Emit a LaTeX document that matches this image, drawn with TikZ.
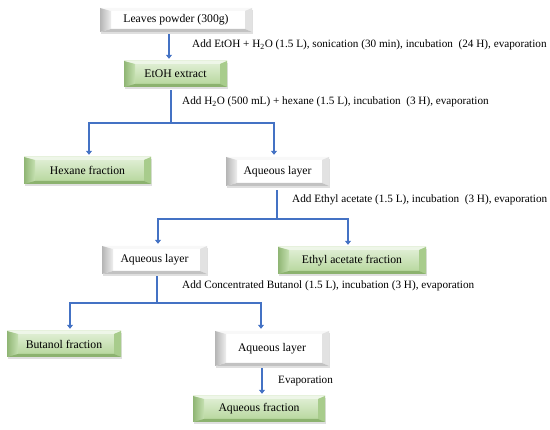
\documentclass[tikz,border=0pt]{standalone}
\usepackage{fontspec}
\setmainfont{Liberation Serif}
\usetikzlibrary{arrows.meta,shadows,calc}
\definecolor{flowblue}{HTML}{4472C4}
\definecolor{gtop}{HTML}{E3F0D9}
\definecolor{gbot}{HTML}{B3D598}
\definecolor{gbt}{HTML}{EEF6E8}
\definecolor{gld}{HTML}{8FB574}
\definecolor{gll}{HTML}{C5E0B0}
\definecolor{grr}{HTML}{A8CC8C}
\definecolor{gbb}{HTML}{8CB26F}
\definecolor{wbt}{HTML}{F8F8F8}
\definecolor{wld}{HTML}{B5B5B5}
\definecolor{wll}{HTML}{EEEEEE}
\definecolor{wrr}{HTML}{E2E2E2}
\definecolor{wbb}{HTML}{C2C2C2}
\newcommand\bevelparts[5]{%
  \path (path picture bounding box.north west) coordinate (bNW)
        (path picture bounding box.north east) coordinate (bNE)
        (path picture bounding box.south west) coordinate (bSW)
        (path picture bounding box.south east) coordinate (bSE);
  \fill[#1] (bNW) -- (bNE) -- ([shift={(-7pt,-3pt)}]bNE) -- ([shift={(11pt,-3pt)}]bNW) -- cycle;
  \shade[left color=#2, right color=#3] (bNW) -- ([shift={(11pt,-3pt)}]bNW) -- ([shift={(11pt,3pt)}]bSW) -- (bSW) -- cycle;
  \fill[#4] (bNE) -- (bSE) -- ([shift={(-7pt,3pt)}]bSE) -- ([shift={(-7pt,-3pt)}]bNE) -- cycle;
  \fill[#5] (bSW) -- (bSE) -- ([shift={(-7pt,3pt)}]bSE) -- ([shift={(11pt,3pt)}]bSW) -- cycle;
}
\newcommand\boxfont{\fontsize{11.7}{13}\selectfont}
\newcommand\lblfont{\fontsize{11.2}{13}\selectfont}
\tikzset{
  box/.style={rectangle, inner sep=0pt, font=\boxfont,
    drop shadow={opacity=0.25, shadow xshift=0.8pt, shadow yshift=-1.8pt}},
  greenbox/.style={box, top color=gtop, bottom color=gbot,
    path picture={\bevelparts{gbt}{gld}{gll}{grr}{gbb}}},
  whitebox/.style={box, fill=white,
    path picture={\bevelparts{wbt}{wld}{wll}{wrr}{wbb}}},
  ln/.style={draw=flowblue, line width=2.6pt},
  hln/.style={draw=flowblue, line width=2.2pt},
  arr/.style={ln, -{Triangle[length=4pt,width=6pt]}, shorten <=2pt, shorten >=2pt},
  lbl/.style={anchor=west, font=\lblfont, inner sep=0pt}
}
\begin{document}
\begin{tikzpicture}[x=1pt, y=-1pt]
\useasboundingbox (0,0) rectangle (550,430);
% boxes
\node[whitebox, minimum width=152pt, minimum height=24pt] (leaves) at (176,20) {Leaves powder (300g)};
\node[greenbox, minimum width=103pt, minimum height=26pt] (etoh) at (175.5,74) {EtOH extract};
\node[greenbox, minimum width=127pt, minimum height=27pt] (hex) at (87.5,170.5) {Hexane fraction};
\node[whitebox, minimum width=103pt, minimum height=29pt] (aq1) at (277.5,171.5) {Aqueous layer};
\node[whitebox, minimum width=105pt, minimum height=28pt] (aq2) at (154.5,260) {Aqueous layer};
\node[greenbox, minimum width=148pt, minimum height=27pt] (eth) at (352,260.5) {Ethyl acetate fraction};
\node[greenbox, minimum width=114pt, minimum height=26pt] (but) at (64,344) {Butanol fraction};
\node[whitebox, minimum width=114pt, minimum height=35pt] (aq3) at (272,348.5) {Aqueous layer};
\node[greenbox, minimum width=132pt, minimum height=26pt] (aqf) at (259,409) {Aqueous fraction};
% labels
\node[lbl] (t1) at (192,45) {Add EtOH + H\textsubscript{2}O (1.5 L), sonication (30 min), incubation\ \ (24 H), evaporation};
\node[lbl] (t2) at (182,102) {Add H\textsubscript{2}O (500 mL) + hexane (1.5 L), incubation\ \ (3 H), evaporation};
\node[lbl] (t3) at (292,200) {Add Ethyl acetate (1.5 L), incubation\ \ (3 H), evaporation};
\node[lbl] (t4) at (182,286) {Add Concentrated Butanol (1.5 L), incubation (3 H), evaporation};
\node[lbl] (t5) at (278,381) {Evaporation};
% junctions
\coordinate (j1) at (171,123);
\coordinate (j2) at (277,219);
\coordinate (j3) at (157,303);
% connectors
\draw[arr] ([xshift=-7pt]leaves.south) -- ([xshift=-7pt]leaves.south |- etoh.north);
\draw[ln, shorten <=3pt] (etoh.south -| j1) -- (j1);
\draw[arr, hln, shorten <=0pt] (j1) -| ([xshift=1.5pt]hex.north);
\draw[arr, hln, shorten <=0pt] (j1) -| ([xshift=-3.5pt]aq1.north);
\draw[ln, shorten <=4pt] (aq1.south -| j2) -- (j2);
\draw[arr, hln, shorten <=0pt] (j2) -| ([xshift=3.5pt]aq2.north);
\draw[arr, hln, shorten <=0pt] (j2) -| ([xshift=-4pt]eth.north);
\draw[ln, shorten <=2pt] (aq2.south -| j3) -- (j3);
\draw[arr, hln, shorten <=0pt] (j3) -| ([xshift=6pt]but.north);
\draw[arr, hln, shorten <=0pt] (j3) -| ([xshift=-11pt]aq3.north);
\draw[arr] ([xshift=-10pt]aq3.south) -- ([xshift=-10pt]aq3.south |- aqf.north);
\end{tikzpicture}
\end{document}
